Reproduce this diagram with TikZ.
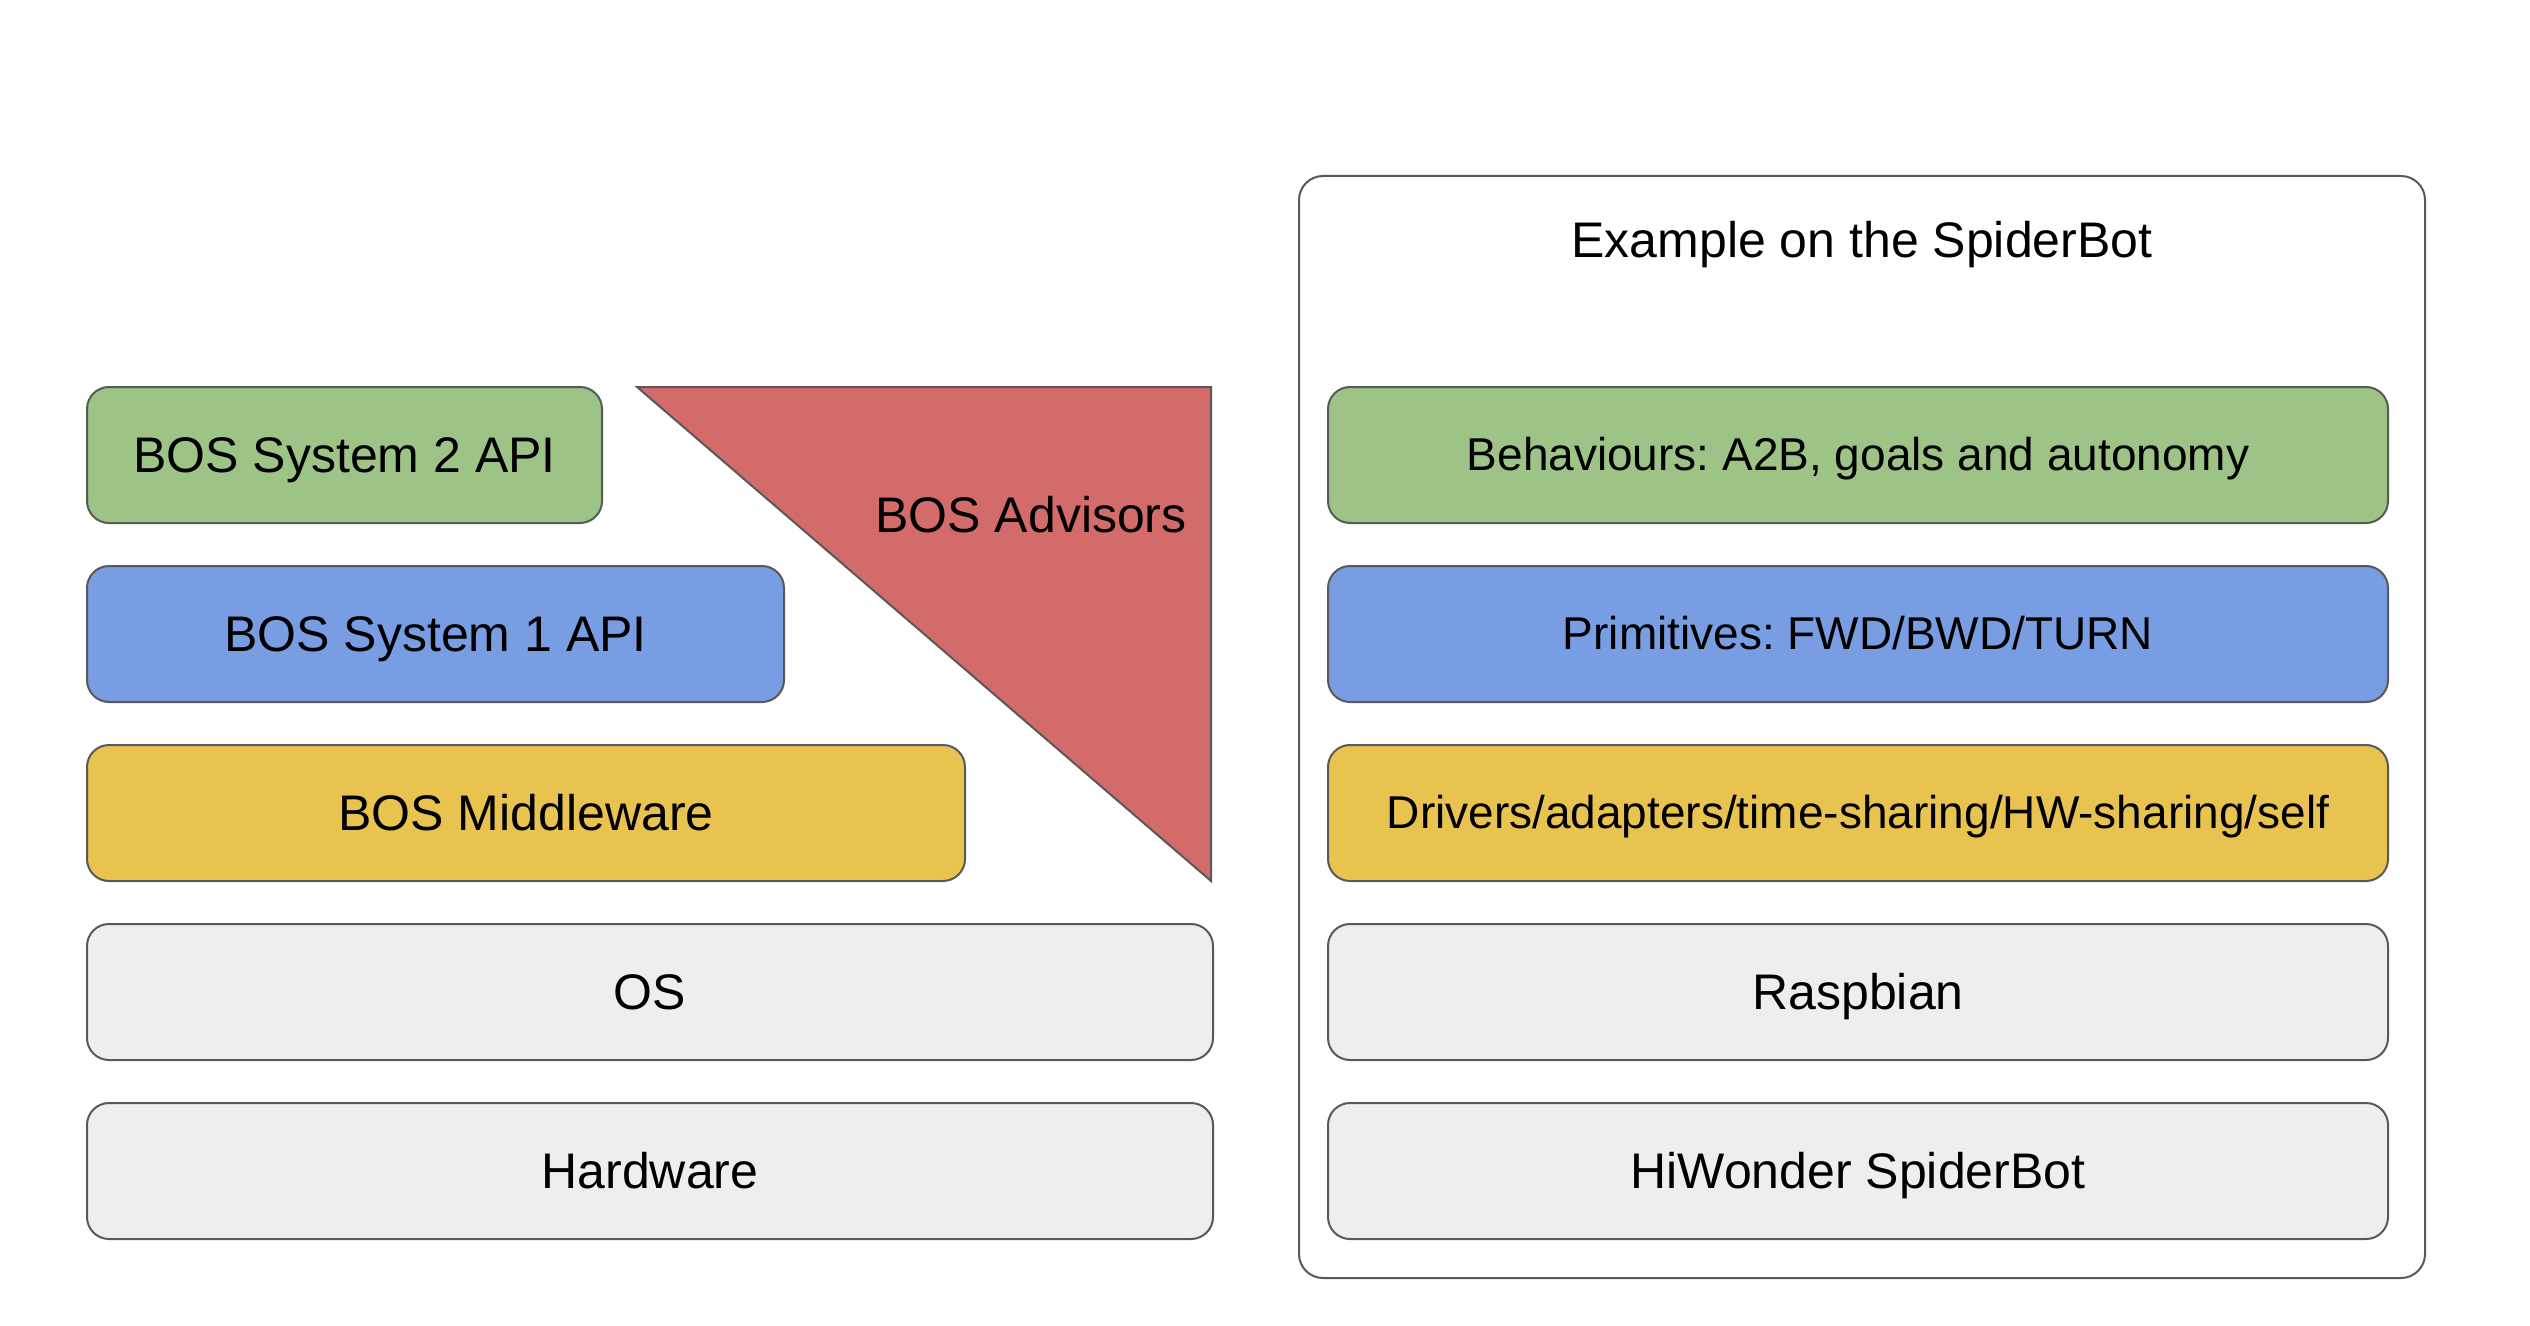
\documentclass[tikz,border=0pt]{standalone}
\usepackage{fontspec}
\setmainfont{Liberation Sans}
\frenchspacing
\definecolor{lgreen}{HTML}{9EC386}
\definecolor{lblue}{HTML}{789DE3}
\definecolor{lyellow}{HTML}{E8C34F}
\definecolor{lred}{HTML}{D26B69}
\definecolor{lgray}{HTML}{EEEEEE}
\definecolor{edge}{HTML}{595959}
\begin{document}
\begin{tikzpicture}[x=0.5pt,y=-0.5pt,
  layer/.style={draw=edge, line width=1pt, rectangle, rounded corners=11pt, inner sep=0pt,
    minimum height=68pt, font=\fontsize{25}{30}\selectfont, text=black,
    text height=17.2pt, text depth=0pt},
  rlayer/.style={layer, minimum width=530pt},
  small/.style={font=\fontsize{23}{28}\selectfont\frenchspacing, text height=15.9pt, text depth=0pt},
  big/.style={font=\fontsize{25}{30}\selectfont, text height=17.2pt, text depth=0pt}]
\useasboundingbox (0,0) rectangle (2530,1326);
% left stack
\node[layer, fill=lgreen, minimum width=257.5pt] (g2) at (344.5,455) {BOS System 2 API};
\node[layer, fill=lblue, minimum width=348.5pt] (b1) at (435.5,634) {BOS System 1 API};
\node[layer, fill=lyellow, minimum width=439pt] (mw) at (526,813) {BOS Middleware};
\node[layer, fill=lgray, minimum width=563pt] (os) at (650,992) {OS};
\node[layer, fill=lgray, minimum width=563pt] (hw) at (650,1171) {Hardware};
% advisors triangle
\coordinate (t1) at (637,387);
\coordinate (t2) at (1211,387);
\coordinate (t3) at (1211,881);
\draw[draw=edge, line width=1pt, fill=lred, line join=miter] (t1) -- (t2) -- (t3) -- cycle;
\node[big] (adv) at (1031,515) {BOS Advisors};
% right panel
\node[draw=edge, line width=1pt, rectangle, rounded corners=12pt, fill=white,
  minimum width=563pt, minimum height=551pt, inner sep=0pt] (panel) at (1862,727) {};
\node[big] (title) at (1862,240) {Example on the SpiderBot};
\node[rlayer, fill=lgreen, small] (rbeh) at (1858,455) {Behaviours: A2B, goals and autonomy};
\node[rlayer, fill=lblue, small] (rprim) at (1858,634) {Primitives: FWD/BWD/TURN};
\node[rlayer, fill=lyellow, small] (rdrv) at (1858,813) {Drivers/adapters/time-sharing/HW-sharing/self};
\node[rlayer, fill=lgray] (rras) at (1858,992) {Raspbian};
\node[rlayer, fill=lgray] (rhw) at (1858,1171) {HiWonder SpiderBot};
\end{tikzpicture}
\end{document}
